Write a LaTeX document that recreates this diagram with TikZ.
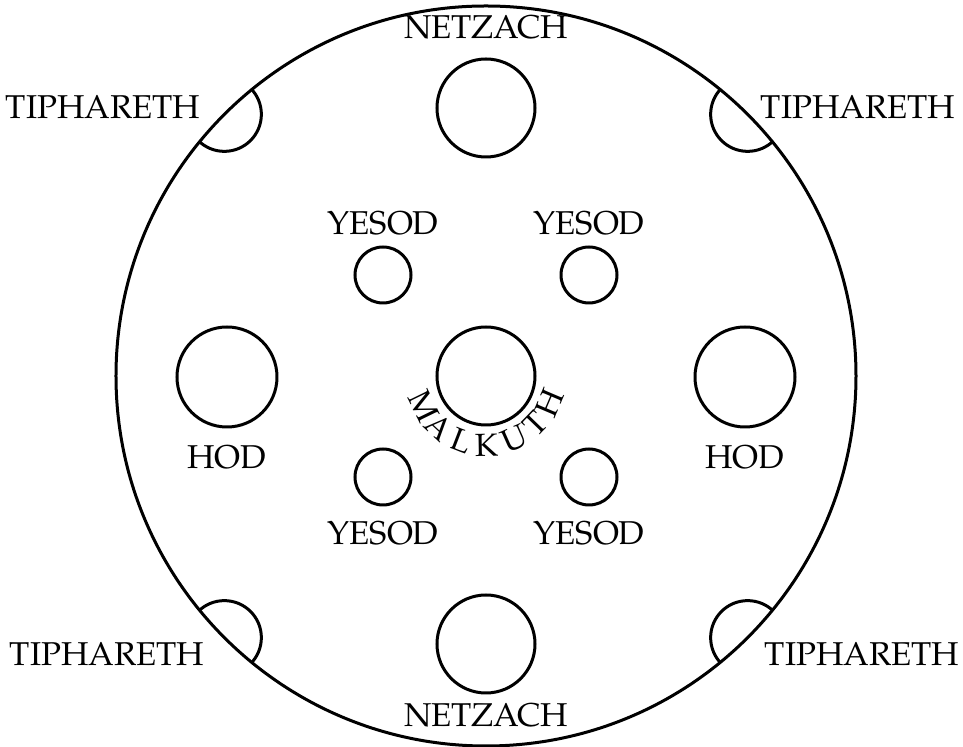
\documentclass[tikz,border=0pt]{standalone}
\usepackage{fontspec}
\setmainfont{texgyrepagella-regular.otf}
\usetikzlibrary{positioning}

\begin{document}
\begin{tikzpicture}[
    x=0.5pt, y=0.5pt,
    node distance=5pt,
    sephira/.style={circle, draw, line width=1.5pt, minimum size=49pt, inner sep=0pt},
    yesodring/.style={circle, draw, line width=1.5pt, minimum size=28pt, inner sep=0pt},
    lbl/.style={font=\fontsize{16.5}{19}\selectfont, inner sep=0pt}
]
    \useasboundingbox (-486,-371) rectangle (477,376);

    % outer disc and the spheres on it
    \node (rim) [circle, draw, line width=1.5pt, minimum size=370pt, inner sep=0pt] at (0,0) {};
    \node (malkuth) [sephira] at (0,0) {};
    \node (netzachN) [sephira] at (0,268) {};
    \node (netzachS) [sephira] at (0,-268) {};
    \node (hodW) [sephira, minimum size=50pt] at (-259,-1) {};
    \node (hodE) [sephira, minimum size=50pt] at (259,-1) {};
    \node (yesodNW) [yesodring] at (-103,101) {};
    \node (yesodNE) [yesodring] at (103,101) {};
    \node (yesodSW) [yesodring] at (-103,-101) {};
    \node (yesodSE) [yesodring] at (103,-101) {};

    \node (lNetzachN) [lbl, above=9pt of netzachN] {NETZACH};
    \node (lNetzachS) [lbl, below=4pt of netzachS] {NETZACH};
    \node (lHodW) [lbl, below=8pt of hodW] {HOD};
    \node (lHodE) [lbl, below=8pt of hodE] {HOD};
    \node (lYesodNW) [lbl, above=5pt of yesodNW] {YESOD};
    \node (lYesodNE) [lbl, above=5pt of yesodNE] {YESOD};
    \node (lYesodSW) [lbl, below=7pt of yesodSW] {YESOD};
    \node (lYesodSE) [lbl, below=7pt of yesodSE] {YESOD};

    % half circles cut by the rim
    \begin{scope}
        \clip (0,0) circle[radius=370];
        \foreach \a in {45,135,225,315}
            \draw[line width=1.5pt] (\a:370) circle[radius=37];
    \end{scope}
    \node (tipNW) [lbl] at (-383,269) {TIPHARETH};
    \node (tipNE) [lbl] at (372,269) {TIPHARETH};
    \node (tipSW) [lbl] at (-379,-278) {TIPHARETH};
    \node (tipSE) [lbl] at (376,-278) {TIPHARETH};

    % bent name under the middle sphere
    \foreach \ch/\ang [count=\i] in {M/206,A/227,L/249,K/271,U/294,T/316,H/337}
        \node (malk\i) [lbl, font=\fontsize{16}{18}\selectfont, rotate=\ang+90] at (\ang:69) {\ch};
\end{tikzpicture}
\end{document}
